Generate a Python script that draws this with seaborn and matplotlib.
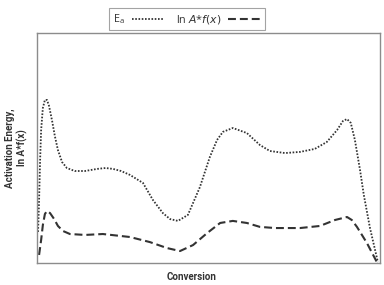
import matplotlib
matplotlib.use("Agg")
import matplotlib.pyplot as plt
import pandas as pd
import seaborn as sns

# activation energy curve (normalised units)
conv_ea = [0.003, 0.006, 0.009, 0.012, 0.017, 0.023, 0.029, 0.035, 0.044, 0.052,
           0.061, 0.073, 0.087, 0.110, 0.140, 0.175, 0.200, 0.222, 0.245, 0.271,
           0.309, 0.338, 0.367, 0.388, 0.411, 0.440, 0.475, 0.504, 0.525, 0.542,
           0.571, 0.612, 0.650, 0.679, 0.723, 0.767, 0.810, 0.845, 0.875, 0.892,
           0.904, 0.915, 0.927, 0.942, 0.953, 0.971, 0.994]
ea = [0.135, 0.274, 0.448, 0.578, 0.674, 0.709, 0.709, 0.683, 0.618, 0.552,
      0.491, 0.439, 0.413, 0.400, 0.400, 0.409, 0.413, 0.409, 0.400, 0.383,
      0.348, 0.274, 0.217, 0.191, 0.183, 0.209, 0.330, 0.461, 0.535, 0.570,
      0.587, 0.565, 0.513, 0.487, 0.478, 0.483, 0.496, 0.526, 0.578, 0.617,
      0.626, 0.609, 0.535, 0.404, 0.296, 0.152, 0.004]

# ln A*f(x) curve
conv_lnA = [0.006, 0.012, 0.017, 0.023, 0.029, 0.038, 0.050, 0.061, 0.076, 0.096,
            0.140, 0.192, 0.271, 0.329, 0.379, 0.417, 0.455, 0.496, 0.534, 0.571,
            0.612, 0.650, 0.694, 0.767, 0.825, 0.869, 0.904, 0.918, 0.933, 0.962,
            0.991]
lnA = [0.035, 0.100, 0.165, 0.213, 0.226, 0.217, 0.191, 0.161, 0.139, 0.126,
       0.122, 0.126, 0.113, 0.091, 0.065, 0.052, 0.078, 0.130, 0.174, 0.183,
       0.174, 0.157, 0.152, 0.152, 0.161, 0.187, 0.200, 0.187, 0.157, 0.087,
       0.004]

sns.set_style("white")
plt.rcParams['font.family'] = ['Roboto', 'DejaVu Sans']

df_ea = pd.DataFrame({'conversion': conv_ea, 'value': ea})
df_ln = pd.DataFrame({'conversion': conv_lnA, 'value': lnA})

fig = plt.figure(figsize=(3.84, 2.85), dpi=100)
ax = fig.add_axes([0.0964, 0.0772, 0.893, 0.807])

line_col = '#333333'
sns.lineplot(data=df_ea, x='conversion', y='value', ax=ax, color=line_col,
             lw=1.3, linestyle=(0, (0.9, 0.9)), label=r'E$_\mathregular{a}$')
sns.lineplot(data=df_ln, x='conversion', y='value', ax=ax, color=line_col,
             lw=1.5, linestyle=(0, (3.8, 1.9)), label=r'ln $\it{A}$*$\it{f(x)}$')

ax.set_xlim(0, 1)
ax.set_ylim(0, 1)
ax.set_xticks([])
ax.set_yticks([])
ax.set_xlabel('')
ax.set_ylabel('')
for s in ax.spines.values():
    s.set_color('#8c8c8c')
    s.set_linewidth(1.0)

leg = ax.legend(loc='upper center', bbox_to_anchor=(0.487, 0.972),
                bbox_transform=fig.transFigure, ncol=2, frameon=True,
                fancybox=False, markerfirst=False, handlelength=3.0,
                columnspacing=1.1, handletextpad=0.6, borderpad=0.4,
                borderaxespad=0, prop={'family': 'Open Sans', 'size': 7.8})
leg.get_frame().set_edgecolor('#8c8c8c')
leg.get_frame().set_linewidth(0.8)
for t in leg.get_texts():
    t.set_color('#333333')

fig.text(192 / 384, 1 - 277 / 285, 'Conversion', ha='center', va='center',
         fontsize=7, fontweight='bold', color='#333333')
fig.text(16 / 384, 1 - 148 / 285, 'Activation Energy,\nln A*f(x)',
         ha='center', va='center', rotation=90, fontsize=7,
         fontweight='bold', color='#333333', linespacing=1.2)

fig.savefig('out.png', dpi=100)
